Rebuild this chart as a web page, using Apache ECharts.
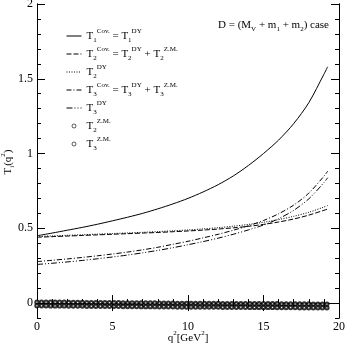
<!DOCTYPE html>
<html><head><meta charset="utf-8">
<script src="https://cdn.jsdelivr.net/npm/echarts@6/dist/echarts.min.js"></script>
<style>html,body{margin:0;padding:0;background:#fff}#c{width:346px;height:346px}</style>
</head><body><div id="c"></div>
<script>
// ---- data ----
const q2 = [0,1,2,3,4,5,6,7,8,9,10,11,12,13,14,15,16,17,18,19,19.25];
const T1cov = [0.45,0.468,0.487,0.506,0.527,0.55,0.574,0.60,0.63,0.663,0.70,0.743,0.792,0.85,0.92,1.0,1.09,1.2,1.34,1.53,1.58];
const T2cov = [0.44,0.444,0.448,0.452,0.456,0.46,0.464,0.468,0.472,0.477,0.482,0.488,0.495,0.503,0.513,0.526,0.542,0.562,0.588,0.62,0.628];
const T2dy  = [0.445,0.449,0.453,0.457,0.461,0.465,0.469,0.473,0.478,0.483,0.489,0.496,0.504,0.514,0.526,0.54,0.558,0.58,0.607,0.642,0.652];
const T3cov = [0.277,0.286,0.295,0.305,0.316,0.328,0.341,0.356,0.373,0.393,0.413,0.436,0.46,0.487,0.517,0.552,0.597,0.655,0.735,0.848,0.882];
const T3dy  = [0.258,0.266,0.275,0.285,0.296,0.308,0.321,0.336,0.352,0.37,0.39,0.411,0.434,0.46,0.489,0.522,0.564,0.62,0.697,0.805,0.838];
const q2zm = [0,0.3,0.6,0.9,1.2,1.5,1.8,2.1,2.4,2.7,3,3.3,3.6,3.9,4.2,4.5,4.8,5.1,5.4,5.7,6,6.3,6.6,6.9,7.2,7.5,7.8,8.1,8.4,8.7,9,9.3,9.6,9.9,10.2,10.5,10.8,11.1,11.4,11.7,12,12.3,12.6,12.9,13.2,13.5,13.8,14.1,14.4,14.7,15,15.3,15.6,15.9,16.2,16.5,16.8,17.1,17.4,17.7,18,18.3,18.6,18.9,19.2];
const T2zm = [0.006,0.006,0.006,0.005,0.005,0.005,0.005,0.004,0.004,0.004,0.004,0.003,0.003,
  0.003,0.003,0.002,0.002,0.002,0.002,0.001,0.001,0.001,0.001,0.000,0.000,0.000,
  0.000,-0.001,-0.001,-0.001,-0.001,-0.002,-0.002,-0.002,-0.002,-0.002,-0.003,-0.003,-0.003,
  -0.003,-0.003,-0.004,-0.004,-0.004,-0.004,-0.004,-0.004,-0.005,-0.005,-0.005,-0.005,-0.005,
  -0.005,-0.005,-0.006,-0.006,-0.006,-0.006,-0.006,-0.006,-0.006,-0.007,-0.007,-0.007,-0.007];
const T3zm = [-0.018,-0.018,-0.018,-0.019,-0.019,-0.019,-0.019,-0.020,-0.020,-0.020,-0.020,-0.021,-0.021,
  -0.021,-0.021,-0.022,-0.022,-0.022,-0.022,-0.023,-0.023,-0.023,-0.023,-0.024,-0.024,-0.024,
  -0.024,-0.025,-0.025,-0.025,-0.025,-0.026,-0.026,-0.026,-0.026,-0.026,-0.027,-0.027,-0.027,
  -0.027,-0.027,-0.028,-0.028,-0.028,-0.028,-0.028,-0.028,-0.029,-0.029,-0.029,-0.029,-0.029,
  -0.029,-0.030,-0.030,-0.030,-0.030,-0.030,-0.031,-0.031,-0.031,-0.031,-0.032,-0.032,-0.032];
const xTicks = [0,5,10,15,20];
const yTicks = [0,0.5,1,1.5,2];

const names = ['T1cov','T2cov','T2dy','T3cov','T3dy','T2zm','T3zm'];
const legendText = {
  T1cov: '{t|T}{sub|1}{sup|Cov.}{t| = T}{sub|1}{sup|DY}',
  T2cov: '{t|T}{sub|2}{sup|Cov.}{t| = T}{sub|2}{sup|DY}{t| + T}{sub|2}{sup|Z.M.}',
  T2dy:  '{t|T}{sub|2}{sup|DY}',
  T3cov: '{t|T}{sub|3}{sup|Cov.}{t| = T}{sub|3}{sup|DY}{t| + T}{sub|3}{sup|Z.M.}',
  T3dy:  '{t|T}{sub|3}{sup|DY}',
  T2zm:  '{t|T}{sub|2}{sup|Z.M.}',
  T3zm:  '{t|T}{sub|3}{sup|Z.M.}'
};

const FONT = '"Liberation Serif","DejaVu Serif",serif';
const rich = {
  t:   {fontFamily: FONT, fontSize: 11, fontWeight: 'normal', color: '#000', lineHeight: 16, verticalAlign: 'middle'},
  sub: {fontFamily: FONT, fontSize: 7, fontWeight: 'normal', color: '#000', verticalAlign: 'bottom', lineHeight: 9},
  sup: {fontFamily: FONT, fontSize: 7, fontWeight: 'normal', color: '#000', verticalAlign: 'top', lineHeight: 9}
};
const zip = (xs, ys) => xs.map((x, i) => [x, ys[i]]);

function lineSeries(name, ys, type) {
  return {
    name, type: 'line', data: zip(q2, ys), smooth: 0.3, symbol: 'none',
    lineStyle: {color: '#000', width: 1, type}, itemStyle: {color: '#000'},
    xAxisIndex: 0, yAxisIndex: 0, z: 3
  };
}
function zmSeries(name, ys) {
  return {
    name, type: 'scatter', data: zip(q2zm, ys), symbol: 'emptyCircle', symbolSize: 3.4,
    itemStyle: {color: '#000', borderColor: '#000', borderWidth: 0.6},
    xAxisIndex: 0, yAxisIndex: 0, z: 3
  };
}

const axisLine = {show: true, lineStyle: {color: '#000', width: 1}};
const xBase = {type: 'value', min: 0, max: 20, interval: 5, axisLine,
  splitLine: {show: false},
  axisTick: {show: true, inside: true, length: 8, lineStyle: {color: '#000'}},
  minorTick: {show: true, splitNumber: 5, length: 4, lineStyle: {color: '#000'}}};
const yMajor = {type: 'value', min: -0.1, max: 2, interval: 0.1, axisLine,
  splitLine: {show: false},
  axisTick: {show: true, inside: true, length: 8, customValues: yTicks, lineStyle: {color: '#000'}}};
const yMinor = {type: 'value', min: -0.1, max: 2, interval: 0.1, axisLine,
  splitLine: {show: false}, axisLabel: {show: false},
  axisTick: {show: true, inside: true, length: 4, lineStyle: {color: '#000'}}};

const legendData = names.map(n => n.indexOf('zm') > 0
  ? {name: n, icon: 'circle', itemStyle: {color: '#fff', borderColor: '#000', borderWidth: 0.8}}
  : {name: n, itemStyle: {opacity: 0}, lineStyle: {width: 1}});

const option = {
  animation: false,
  backgroundColor: '#fff',
  grid: {left: 37, right: 7, top: 4, bottom: 28, containLabel: false, outerBoundsMode: 'none'},
  title: {
    text: '{t|D = (M}{sub|V}{t| + m}{sub|1}{t| + m}{sub|2}{t|) case}',
    right: 12, top: 12,
    textStyle: {rich, fontWeight: 'normal'}
  },
  graphic: [{
    type: 'text', x: 8, y: 162, rotation: Math.PI / 2,
    style: {text: '{t|T}{sub|i}{t|(q}{sup|2}{t|)}', rich, align: 'center', verticalAlign: 'middle'}
  }],
  legend: {
    left: 61, top: 23, orient: 'vertical',
    itemWidth: 15, itemHeight: 4, itemGap: 2,
    data: legendData,
    formatter: n => legendText[n],
    textStyle: {rich},
    selectedMode: false
  },
  xAxis: [
    Object.assign({}, xBase, {position: 'bottom',
      name: '{t|q}{sup|2}{t|[GeV}{sup|2}{t|]}', nameLocation: 'middle', nameGap: 12, nameMoveOverlap: false,
      nameTextStyle: {rich},
      axisLabel: {show: true, customValues: xTicks, color: '#000', fontFamily: FONT, fontSize: 12, margin: 3}}),
    Object.assign({}, xBase, {position: 'top', axisLabel: {show: false}})
  ],
  yAxis: [
    Object.assign({}, yMajor, {position: 'left',
      axisLabel: {show: true, customValues: yTicks, color: '#000', fontFamily: FONT, fontSize: 12, margin: 4,
        formatter: v => String(v)}}),
    Object.assign({}, yMinor, {position: 'left'}),
    Object.assign({}, yMajor, {position: 'right', axisLabel: {show: false}}),
    Object.assign({}, yMinor, {position: 'right'})
  ],
  series: [
    lineSeries('T1cov', T1cov, 'solid'),
    lineSeries('T2cov', T2cov, [5, 2]),
    lineSeries('T2dy', T2dy, [1, 1.5]),
    lineSeries('T3cov', T3cov, [5, 2, 1, 2]),
    lineSeries('T3dy', T3dy, [6, 2, 1, 2, 1, 2]),
    zmSeries('T2zm', T2zm),
    zmSeries('T3zm', T3zm)
  ]
};
const chart = echarts.init(document.getElementById('c'), null, {renderer: 'canvas'});
chart.setOption(option);
</script>
</body></html>
